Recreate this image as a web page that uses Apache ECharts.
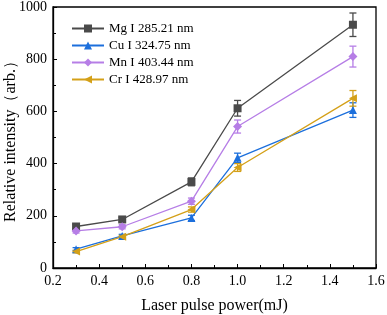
<!DOCTYPE html>
<html><head><meta charset="utf-8">
<script src="https://cdn.jsdelivr.net/npm/echarts@6/dist/echarts.min.js"></script>
<style>html,body{margin:0;padding:0;background:#fff}#c{width:387px;height:315px}</style>
</head><body><div id="c"></div>
<script>
var power = [0.3, 0.5, 0.8, 1.0, 1.5];
var mgVals = [159, 186, 330, 612, 932];
var mgErr  = [8, 8, 15, 30, 45];
var cuVals = [72, 123, 192, 422, 605];
var cuErr  = [6, 6, 10, 18, 28];
var mnVals = [142, 158, 256, 542, 810];
var mnErr  = [8, 8, 12, 25, 40];
var crVals = [63, 120, 224, 385, 650];
var crErr  = [5, 5, 10, 15, 30];
var names = ['Mg I 285.21 nm', 'Cu I 324.75 nm', 'Mn I 403.44 nm', 'Cr I 428.97 nm'];
var colors = ['#4a4a4a', '#1c6fdc', '#b67ee6', '#d4a018'];
var xTicks = [0.2, 0.4, 0.6, 0.8, 1.0, 1.2, 1.4, 1.6];
var yTicks = [0, 200, 400, 600, 800, 1000];

var FONT = '"Liberation Serif", "DejaVu Serif", serif';
function pairs(v){ return power.map(function(x,i){ return [x, v[i]]; }); }
function errData(v,e){ return power.map(function(x,i){ return [x, v[i]-e[i], v[i]+e[i]]; }); }
function errSeries(v,e,color){
  return {
    type:'custom', silent:true, z:3,
    data: errData(v,e),
    renderItem: function(params, api){
      var x = api.value(0);
      var lo = api.coord([x, api.value(1)]);
      var hi = api.coord([x, api.value(2)]);
      var w = 3.5;
      var st = {stroke: color, lineWidth: 1.3};
      return {type:'group', children:[
        {type:'line', shape:{x1:lo[0], y1:lo[1], x2:hi[0], y2:hi[1]}, style:st},
        {type:'line', shape:{x1:lo[0]-w, y1:lo[1], x2:lo[0]+w, y2:lo[1]}, style:st},
        {type:'line', shape:{x1:hi[0]-w, y1:hi[1], x2:hi[0]+w, y2:hi[1]}, style:st}
      ]};
    }
  };
}
var symbols = ['rect', 'triangle', 'diamond', 'triangle'];
var rot = [0, 0, 0, 90];
var sizes = [8, 8, 9, 8];
var vals = [mgVals, cuVals, mnVals, crVals];
var errs = [mgErr, cuErr, mnErr, crErr];
var series = [];
for (var k=0;k<4;k++){
  series.push({
    name: names[k], type:'line', data: pairs(vals[k]),
    symbol: symbols[k], symbolSize: sizes[k], symbolRotate: rot[k],
    lineStyle:{color:colors[k], width:1.3}, itemStyle:{color:colors[k]}, z:4
  });
  series.push(errSeries(vals[k], errs[k], colors[k]));
}
var chart = echarts.init(document.getElementById('c'), null, {renderer:'canvas'});
chart.setOption({
  animation:false,
  grid:{left:53, right:11, top:7, bottom:47, show:true, borderColor:'#000', borderWidth:1.3,
        containLabel:false, outerBoundsMode:'none'},
  legend:{
    data: names, left:66, top:17, orient:'vertical', itemGap:4, itemWidth:32, itemHeight:10,
    textStyle:{fontFamily:FONT, fontSize:13, color:'#000'}
  },
  xAxis:{
    type:'value', min:0.2, max:1.6, interval:0.2,
    name:'Laser pulse power(mJ)', nameLocation:'middle', nameGap:30, nameMoveOverlap:false,
    nameTextStyle:{fontFamily:FONT, fontSize:16, color:'#000'},
    axisLine:{lineStyle:{color:'#000', width:1.3}},
    axisTick:{inside:true, length:4, lineStyle:{color:'#000'}},
    minorTick:{show:true, splitNumber:2, length:3, lineStyle:{color:'#000'}},
    splitLine:{show:false},
    axisLabel:{fontFamily:FONT, fontSize:14, color:'#000', margin:6,
      formatter:function(v){ return v.toFixed(1); }}
  },
  yAxis:{
    type:'value', min:0, max:1000, interval:200,
    name:'Relative intensity（arb.）', nameLocation:'middle', nameGap:34, nameMoveOverlap:false,
    nameTextStyle:{fontFamily:FONT, fontSize:16, color:'#000'},
    axisLine:{lineStyle:{color:'#000', width:1.3}},
    axisTick:{inside:true, length:4, lineStyle:{color:'#000'}},
    minorTick:{show:true, splitNumber:2, length:3, lineStyle:{color:'#000'}},
    splitLine:{show:false},
    axisLabel:{fontFamily:FONT, fontSize:14, color:'#000', margin:6,
      formatter:function(v){ return String(v); }}
  },
  series: series
});
</script></body></html>
